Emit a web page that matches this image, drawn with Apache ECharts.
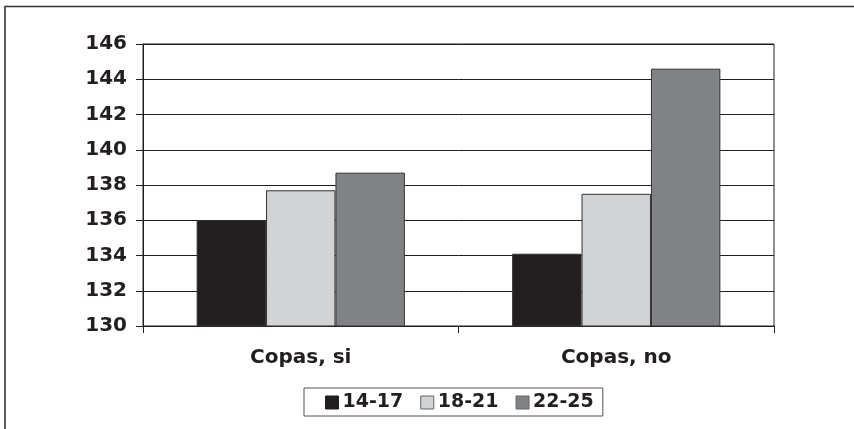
<!DOCTYPE html>
<html>
<head>
<meta charset="utf-8">
<script src="https://cdn.jsdelivr.net/npm/echarts@6/dist/echarts.min.js"></script>
<style>html,body{margin:0;padding:0;background:#fff}#c{width:854px;height:429px}</style>
</head>
<body>
<div id="c"></div>
<script>
const categories = ['Copas, si', 'Copas, no'];
const seriesNames = ['14-17', '18-21', '22-25'];
const values1417 = [136.0, 134.1];
const values1821 = [137.7, 137.5];
const values2225 = [138.7, 144.6];
const yMin = 130, yMax = 146, yStep = 2;

const colors = ['#231f20', '#d1d3d4', '#808285'];
const seriesData = [values1417, values1821, values2225];
const font = 'DejaVu Sans';

const chart = echarts.init(document.getElementById('c'), null, {renderer: 'canvas'});
chart.setOption({
  animation: false,
  backgroundColor: '#fff',
  grid: {left: 143, right: 80, top: 44, bottom: 103, show: true, borderColor: '#231f20', borderWidth: 1},
  graphic: [{
    type: 'polyline', silent: true,
    shape: {points: [[5, 429], [5, 6.5], [854, 6.5]]},
    style: {stroke: '#333', lineWidth: 1.6, fill: null}
  }],
  legend: {
    bottom: 13, left: 304,
    orient: 'horizontal',
    icon: 'rect',
    itemWidth: 13, itemHeight: 13, itemGap: 17,
    padding: [5, 9, 4, 21],
    borderColor: '#555', borderWidth: 1,
    textStyle: {fontFamily: font, fontWeight: 'bold', fontSize: 19, color: '#231f20', padding: [0, 0, 0, -1]},
    data: seriesNames.map((n, i) => ({name: n, itemStyle: {color: colors[i], borderColor: i === 0 ? '#231f20' : '#666', borderWidth: 1}}))
  },
  xAxis: {
    type: 'category', data: categories,
    axisLine: {lineStyle: {color: '#231f20', width: 1}},
    axisTick: {show: true, length: 7, inside: false, alignWithLabel: false, lineStyle: {color: '#231f20'}},
    axisLabel: {fontFamily: font, fontWeight: 'bold', fontSize: 20, color: '#231f20', margin: 22}
  },
  yAxis: {
    type: 'value', min: yMin, max: yMax, interval: yStep,
    axisLine: {show: true, lineStyle: {color: '#231f20', width: 1}},
    axisTick: {show: true, length: 7, lineStyle: {color: '#231f20'}},
    axisLabel: {fontFamily: font, fontWeight: 'bold', fontSize: 20, color: '#231f20', margin: 16},
    splitLine: {show: true, lineStyle: {color: '#231f20', width: 1}}
  },
  series: seriesNames.map((n, i) => ({
    name: n, type: 'bar', data: seriesData[i],
    barGap: '0%', barCategoryGap: '34%',
    itemStyle: {color: colors[i], borderColor: '#333', borderWidth: 1}
  }))
});
</script>
</body>
</html>
